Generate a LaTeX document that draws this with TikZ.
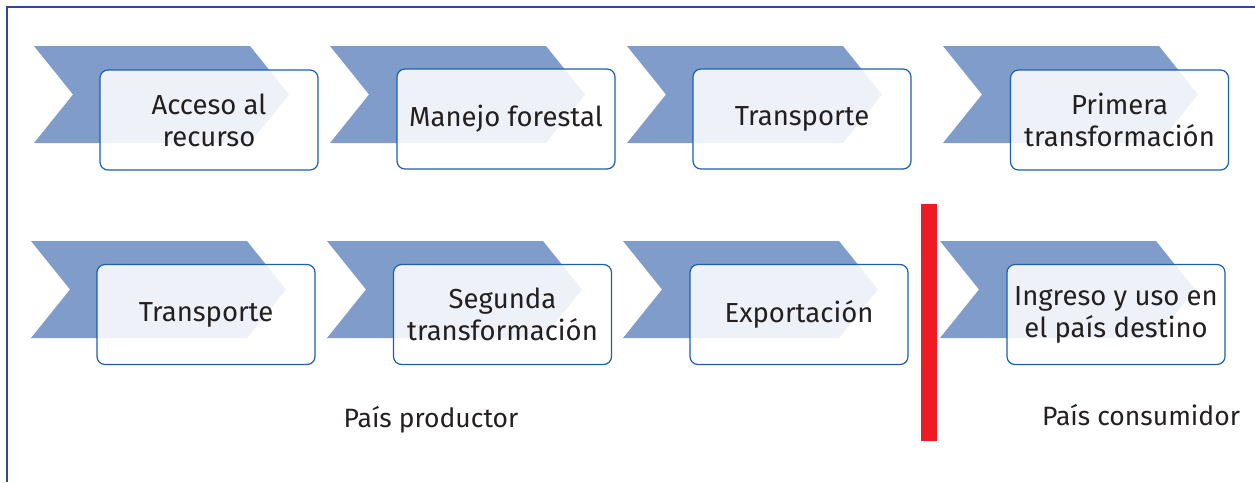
\documentclass[tikz,border=0pt]{standalone}
\usepackage{fontspec}
\setmainfont{Fira Sans}
\definecolor{chevcol}{RGB}{127,156,203}
\definecolor{boxline}{RGB}{30,95,170}
\definecolor{framecol}{RGB}{46,72,158}
\definecolor{redbar}{RGB}{237,28,36}
\definecolor{txt}{RGB}{35,31,32}
\tikzset{
  chevronshape/.style={fill=chevcol, draw=none},
  stepbox/.style={draw=boxline, line width=1.2pt, rounded corners=8pt, fill=white,
    fill opacity=0.87, text opacity=1, minimum width=218pt, minimum height=100pt,
    align=center, text=txt, font=\fontsize{27.5}{32}\selectfont, inner sep=0pt},
  regionlabel/.style={text=txt, font=\fontsize{26.5}{32}\selectfont, inner sep=0pt, anchor=base},
  framestroke/.style={draw=framecol, line width=2.5pt}
}
\newcommand\mychev[2]{%
  \fill[chevronshape] (#1,#2) -- ++(216,0) -- ++(39,48.5) -- ++(-39,48.5)
    -- ++(-216,0) -- ++(39,-48.5) -- cycle;}
\begin{document}
\begin{tikzpicture}[x=1pt,y=-1pt]
\useasboundingbox (0,0) rectangle (1255,482);
% frame
\draw[framestroke] (7,482) -- (7,7) -- (1256,7);
% chevrons row 1
\mychev{34}{46}
\mychev{330}{46}
\mychev{627}{46}
\mychev{943}{46}
% chevrons row 2
\mychev{31}{241}
\mychev{327}{241}
\mychev{623}{241}
\mychev{940}{241}
% boxes row 1
\node[stepbox] (a1) at (209,120) {Acceso al\\recurso};
\node[stepbox] (a2) at (506,119) {Manejo forestal};
\node[stepbox] (a3) at (802,119) {Transporte};
\node[stepbox] (a4) at (1119.5,120) {Primera\\transformación};
% boxes row 2
\node[stepbox] (b1) at (206,314.5) {Transporte};
\node[stepbox] (b2) at (502.5,314.5) {Segunda\\transformación};
\node[stepbox] (b3) at (799,314.5) {Exportación};
\node[stepbox] (b4) at (1116,314.5) {Ingreso y uso en\\el país destino};
% red divider
\fill[redbar] (921,204) rectangle (937,441);
% labels
\node[regionlabel] (prod) at (431,427) {País productor};
\node[regionlabel] (cons) at (1141,425) {País consumidor};
\end{tikzpicture}
\end{document}
